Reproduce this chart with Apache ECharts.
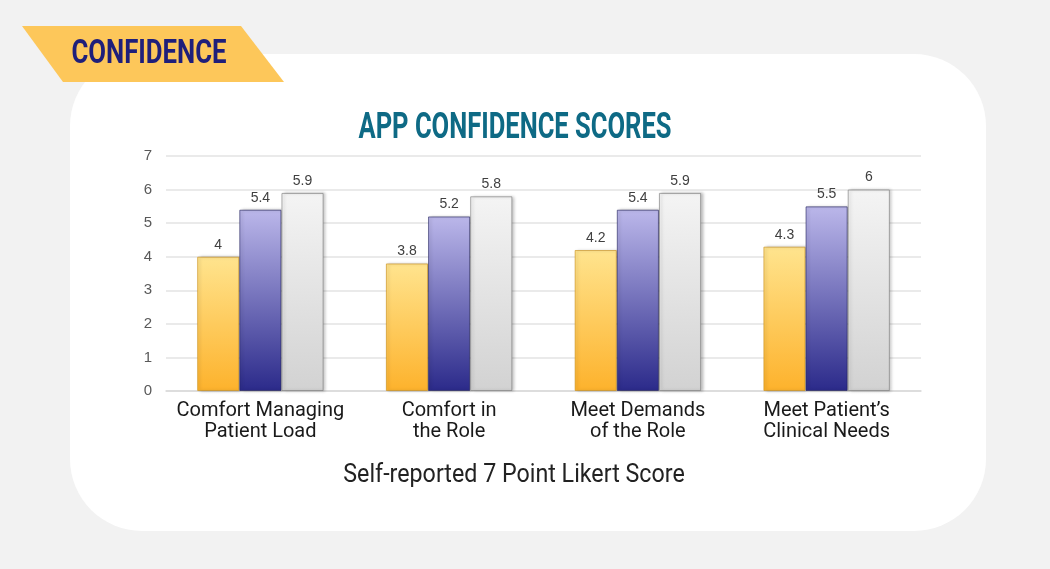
<!DOCTYPE html>
<html>
<head>
<meta charset="utf-8">
<title>App Confidence Scores</title>
<script src="https://cdn.jsdelivr.net/npm/echarts@6/dist/echarts.min.js"></script>
<style>
  html, body { margin: 0; padding: 0; background: #F2F2F2; }
  #chart { width: 1050px; height: 569px; }
</style>
</head>
<body>
<div id="chart"></div>
<script>
// Chart data
const categories = [
    'Comfort Managing\nPatient Load',
    'Comfort in\nthe Role',
    'Meet Demands\nof the Role',
    'Meet Patient\u2019s\nClinical Needs'
];
const seriesA = [4, 3.8, 4.2, 4.3];
const seriesB = [5.4, 5.2, 5.4, 5.5];
const seriesC = [5.9, 5.8, 5.9, 6];
const yTicks = [0, 1, 2, 3, 4, 5, 6, 7];

const sectionLabel = 'CONFIDENCE';
const chartTitle = 'APP CONFIDENCE SCORES';
const footerText = 'Self-reported 7 Point Likert Score';

function grad(top, bottom) {
    return new echarts.graphic.LinearGradient(0, 0, 0, 1, [
        { offset: 0, color: top },
        { offset: 1, color: bottom }
    ]);
}

function barSeries(name, data, top, bottom, border) {
    return {
        name: name,
        type: 'bar',
        data: data,
        barGap: '0%',
        barCategoryGap: '33%',
        itemStyle: {
            color: grad(top, bottom),
            borderColor: border,
            borderWidth: 1,
            shadowColor: 'rgba(0,0,0,0.25)',
            shadowBlur: 3,
            shadowOffsetX: 2
        },
        label: {
            show: true,
            position: 'top',
            distance: 5,
            color: '#404040',
            fontFamily: 'Liberation Sans, Arial, sans-serif',
            fontSize: 14
        }
    };
}

function setupChart() {
    const chart = echarts.init(document.getElementById('chart'));

    const option = {
        backgroundColor: '#F2F2F2',
        animation: false,
        grid: { left: 166, right: 129, top: 156, bottom: 178 },
        xAxis: {
            type: 'category',
            data: categories,
            axisTick: { show: false },
            axisLine: { lineStyle: { color: '#D9D9D9', width: 1.5 } },
            axisLabel: {
                interval: 0,
                color: '#1A1A1A',
                fontFamily: 'Roboto, sans-serif',
                fontSize: 20,
                lineHeight: 21,
                margin: 9
            }
        },
        yAxis: {
            type: 'value',
            min: yTicks[0],
            max: yTicks[yTicks.length - 1],
            interval: 1,
            axisLine: { show: false },
            axisTick: { show: false },
            splitLine: { lineStyle: { color: '#E3E3E3', width: 1.5 } },
            axisLabel: {
                color: '#595959',
                fontFamily: 'Liberation Sans, Arial, sans-serif',
                fontSize: 15,
                margin: 14
            }
        },
        series: [
            barSeries('A', seriesA, '#FFE48E', '#FDB22C', 'rgba(200,140,20,0.6)'),
            barSeries('B', seriesB, '#BBB7EA', '#2B2A8A', 'rgba(30,30,90,0.6)'),
            barSeries('C', seriesC, '#F4F4F4', '#D2D2D2', 'rgba(120,120,120,0.6)')
        ],
        graphic: [
            {
                type: 'rect',
                z: -10,
                shape: { x: 70, y: 54, width: 916, height: 477, r: 72 },
                style: { fill: '#FFFFFF' }
            },
            {
                type: 'polygon',
                z: 10,
                shape: { points: [[22, 26], [241, 26], [284, 82], [63, 82]] },
                style: { fill: '#FDC75A' }
            },
            {
                type: 'text',
                z: 11,
                x: 149, y: 55,
                scaleX: 0.78,
                style: {
                    text: sectionLabel,
                    font: 'bold 33px Roboto, sans-serif',
                    fill: '#1F1F7A',
                    align: 'center',
                    verticalAlign: 'middle'
                }
            },
            {
                type: 'text',
                z: 11,
                x: 515, y: 129,
                scaleX: 0.69,
                style: {
                    text: chartTitle,
                    font: 'bold 37px Roboto, sans-serif',
                    fill: '#0E6A85',
                    align: 'center',
                    verticalAlign: 'middle'
                }
            },
            {
                type: 'text',
                z: 11,
                x: 514, y: 476,
                scaleX: 0.93,
                style: {
                    text: footerText,
                    font: '25px Roboto, sans-serif',
                    fill: '#222222',
                    align: 'center',
                    verticalAlign: 'middle'
                }
            }
        ]
    };

    chart.setOption(option);
}

document.addEventListener('DOMContentLoaded', setupChart);
</script>
</body>
</html>
